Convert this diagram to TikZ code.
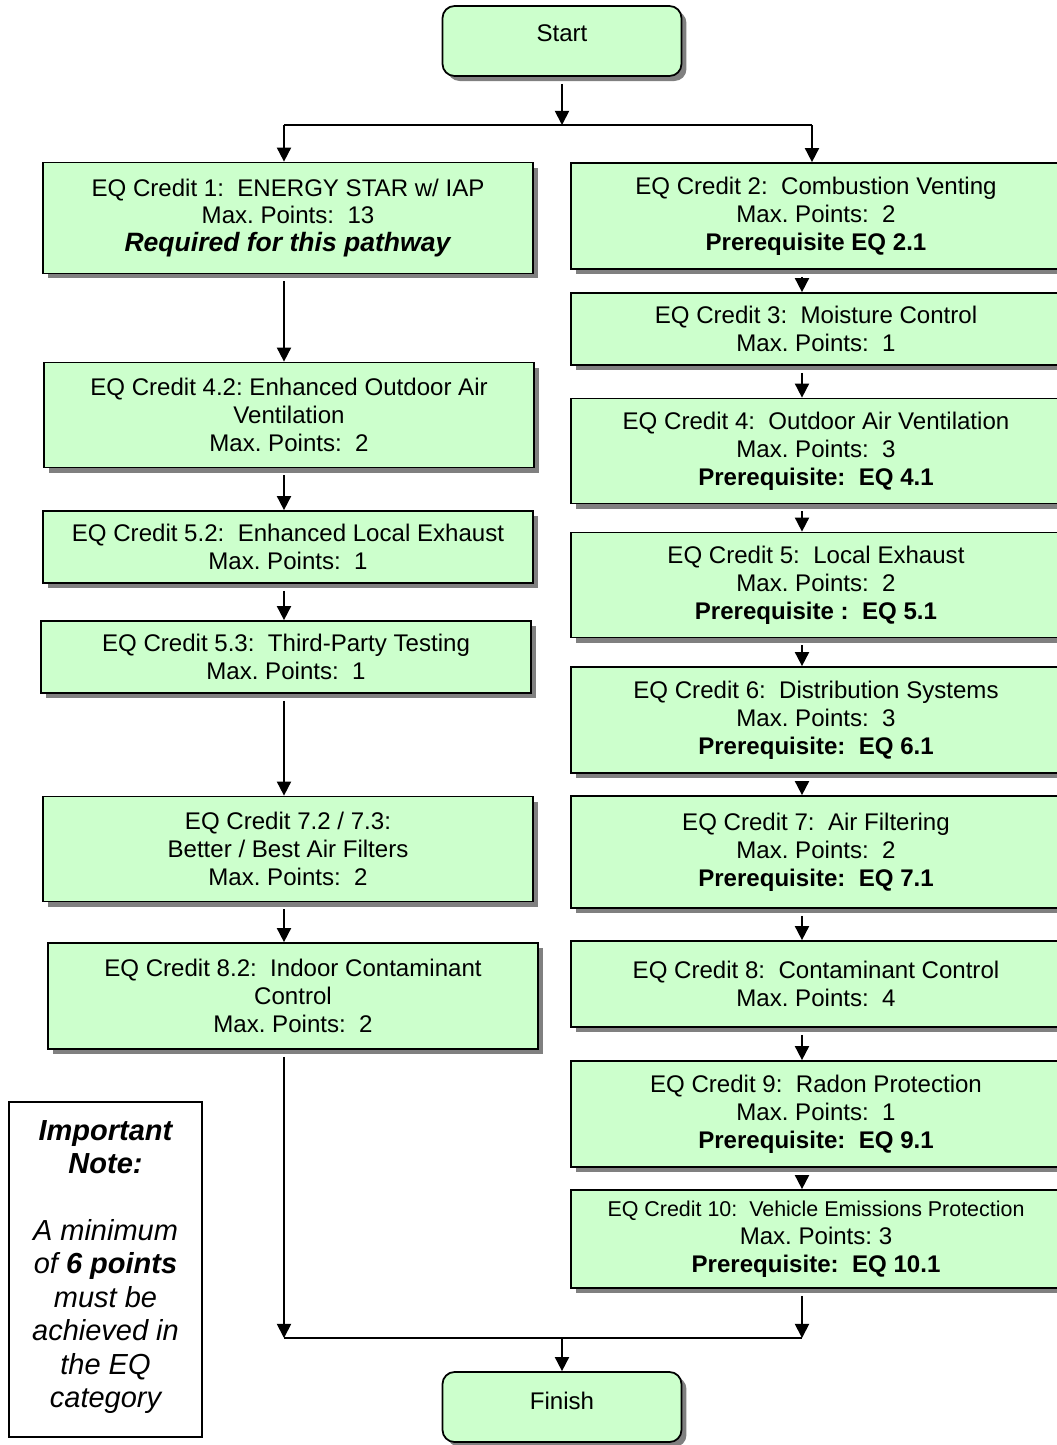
\documentclass[tikz,border=0pt]{standalone}
\usepackage{fontspec}
\setmainfont{Liberation Sans}
\usetikzlibrary{arrows.meta,shadows}
\frenchspacing

\begin{document}
\begin{tikzpicture}[x=0.02cm,y=-0.02cm]
\definecolor{palegreen}{RGB}{204,255,204};
\definecolor{shadowgray}{RGB}{128,128,128};
\tikzstyle{credit}=[draw=black,line width=1pt,fill=palegreen,align=center,inner sep=0pt,minimum width=9.8cm,font=\fontsize{13.7}{15.9}\selectfont,drop shadow={shadow xshift=0.1cm,shadow yshift=-0.1cm,fill=shadowgray,opacity=1}];
\tikzstyle{terminal}=[credit,rounded corners=0.24cm,minimum width=4.78cm,minimum height=1.4cm];
\tikzstyle{flow}=[line width=1pt,-{Triangle[length=8pt,width=8pt]}];
\useasboundingbox (0,0) rectangle (1057,1445);
% start and finish
\node[terminal] (start) at (562,41) {\raisebox{9pt}{Start}};
\node[terminal] (finish) at (562,1407) {\raisebox{7pt}{Finish}};
% left pathway
\node[credit,minimum height=2.22cm] (l1) at (288,218) {EQ Credit 1:~ ENERGY STAR w/ IAP\\Max. Points:~ 13\\{\fontsize{15.1}{15.9}\selectfont\textbf{\textit{Required for this pathway}}}};
\node[credit,minimum height=2.1cm] (l2) at (289,415) {EQ Credit 4.2: Enhanced Outdoor Air\\Ventilation\\Max. Points:~ 2};
\node[credit,minimum height=1.44cm] (l3) at (288,547) {EQ Credit 5.2:~ Enhanced Local Exhaust\\Max. Points:~ 1};
\node[credit,minimum height=1.44cm] (l4) at (286,657) {EQ Credit 5.3:~ Third-Party Testing\\Max. Points:~ 1};
\node[credit,minimum height=2.1cm] (l5) at (288,849) {EQ Credit 7.2 / 7.3:\\Better / Best Air Filters\\Max. Points:~ 2};
\node[credit,minimum height=2.12cm] (l6) at (293,996) {EQ Credit 8.2:~ Indoor Contaminant\\Control\\Max. Points:~ 2};
% right pathway
\node[credit,minimum height=2.12cm] (r1) at (816,216) {EQ Credit 2:~ Combustion Venting\\Max. Points:~ 2\\\textbf{Prerequisite EQ 2.1}};
\node[credit,minimum height=1.44cm] (r2) at (816,329) {EQ Credit 3:~ Moisture Control\\Max. Points:~ 1};
\node[credit,minimum height=2.1cm] (r3) at (816,451) {EQ Credit 4:~ Outdoor Air Ventilation\\Max. Points:~ 3\\\textbf{Prerequisite:~ EQ 4.1}};
\node[credit,minimum height=2.1cm] (r4) at (816,585) {EQ Credit 5:~ Local Exhaust\\Max. Points:~ 2\\\textbf{Prerequisite :~ EQ 5.1}};
\node[credit,minimum height=2.12cm] (r5) at (816,720) {EQ Credit 6:~ Distribution Systems\\Max. Points:~ 3\\\textbf{Prerequisite:~ EQ 6.1}};
\node[credit,minimum height=2.24cm] (r6) at (816,852) {EQ Credit 7:~ Air Filtering\\Max. Points:~ 2\\\textbf{Prerequisite:~ EQ 7.1}};
\node[credit,minimum height=1.72cm] (r7) at (816,984) {EQ Credit 8:~ Contaminant Control\\Max. Points:~ 4};
\node[credit,minimum height=2.12cm] (r8) at (816,1114) {EQ Credit 9:~ Radon Protection\\Max. Points:~ 1\\\textbf{Prerequisite:~ EQ 9.1}};
\node[credit,minimum height=1.96cm] (r9) at (816,1239) {{\fontsize{12.2}{15.9}\selectfont EQ Credit 10:~ Vehicle Emissions Protection}\\Max. Points: 3\\\textbf{Prerequisite:~ EQ 10.1}};
% note
\node[draw=black,line width=1pt,fill=white,minimum width=3.86cm,minimum height=6.7cm] (note) at (105.5,1269.5) {};
\node[align=center,inner sep=0pt,font=\fontsize{16.5}{19}\selectfont\itshape] (notetext) at ([yshift=0.05cm]note.center) {\textbf{Important}\\\textbf{Note:}\\[19pt]A minimum\\of \textbf{6 points}\\must be\\achieved in\\the EQ\\category};
% branches
\coordinate (split) at (562,125);
\coordinate (splitL) at (284,125);
\coordinate (splitR) at (812,125);
\coordinate (merge) at (562,1338);
\coordinate (mergeL) at (284,1338);
\coordinate (mergeR) at (802,1338);
\draw[flow,shorten <=4pt] (start) -- (split);
\draw[line width=1pt] (splitL) -- (splitR);
\draw[flow] (splitL) -- (l1.north -| splitL);
\draw[flow] (splitR) -- (r1.north -| splitR);
\foreach \n [remember=\n as \lastn (initially 1)] in {2,...,6}
\draw[flow,shorten <=4pt] (l\lastn.south -| splitL) -- (l\n.north -| splitL);
\foreach \n [remember=\n as \lastn (initially 1)] in {2,...,9}
\draw[flow,shorten <=4pt] (r\lastn.south -| mergeR) -- (r\n.north -| mergeR);
\draw[flow,shorten <=4pt] (l6.south -| mergeL) -- (mergeL);
\draw[flow,shorten <=4pt] (r9.south -| mergeR) -- (mergeR);
\draw[line width=1pt] (mergeL) -- (mergeR);
\draw[flow] (merge) -- (finish);
\end{tikzpicture}
\end{document}
